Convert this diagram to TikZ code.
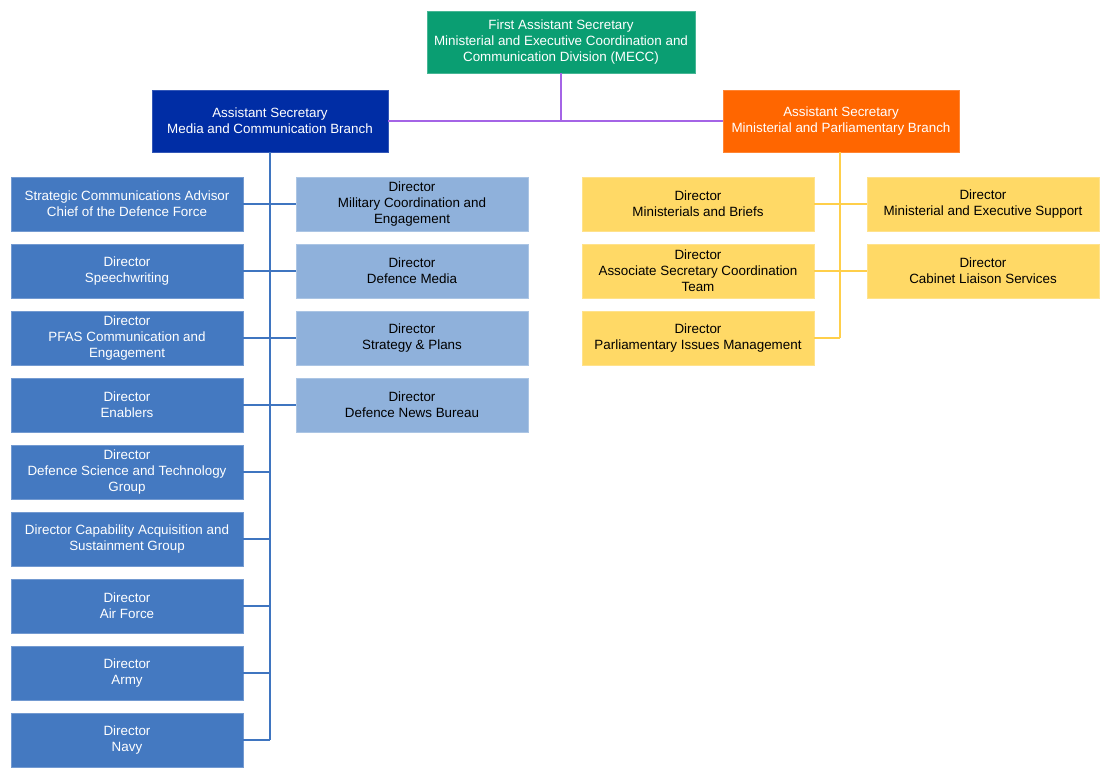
\documentclass[tikz,border=0pt]{standalone}
\usepackage{fontspec}
\setmainfont{Liberation Sans}
\definecolor{cgreen}{HTML}{0A9E72}
\definecolor{cdblue}{HTML}{002DA5}
\definecolor{corange}{HTML}{FF6600}
\definecolor{cblue}{HTML}{4479C1}
\definecolor{clblue}{HTML}{8FB1DB}
\definecolor{cyellow}{HTML}{FFD966}
\definecolor{cline}{HTML}{3F75C0}
\definecolor{cyline}{HTML}{FFCF4A}
\definecolor{cpurple}{HTML}{A464E6}
\begin{document}
\begin{tikzpicture}[x=1pt,y=-1pt,
  box/.style={rectangle,inner sep=0pt,align=center,minimum width=232pt,minimum height=54pt,
    font=\fontsize{13.4}{16}\selectfont,line width=0.8pt},
  bigbox/.style={box,minimum width=236pt,minimum height=62pt},
  topbox/.style={box,minimum width=268pt,minimum height=62pt,fill=cgreen,draw=cgreen!75!white,text=white},
  dbbox/.style={bigbox,fill=cdblue,draw=cdblue!80!white,text=white},
  orbox/.style={bigbox,fill=corange,draw=corange!80!white,text=white},
  bbox/.style={box,fill=cblue,draw=cblue!75!white,text=white},
  lbbox/.style={box,fill=clblue,draw=clblue!75!white,text=black},
  ybox/.style={box,fill=cyellow,draw=cyellow!75!white,text=black},
  bl/.style={draw=cline,line width=2pt},
  yl/.style={draw=cyline,line width=2pt},
  pl/.style={draw=cpurple,line width=2pt}]
\useasboundingbox[fill=white] (0,0) rectangle (1112,780);

\node[topbox] (top) at (561,42) {First Assistant Secretary\\Ministerial and Executive Coordination and\\Communication Division (MECC)};
\node[dbbox] (mb) at (270,121) {Assistant Secretary\\Media and Communication Branch};
\node[orbox] (pb) at (841,121) {Assistant Secretary\\Ministerial and Parliamentary Branch};

\node[bbox] (l1) at (127,204) {Strategic Communications Advisor\\Chief of the Defence Force};
\node[bbox] (l2) at (127,271) {Director\\Speechwriting};
\node[bbox] (l3) at (127,338) {Director\\PFAS Communication and\\Engagement};
\node[bbox] (l4) at (127,405) {Director\\Enablers};
\node[bbox] (l5) at (127,472) {Director\\Defence Science and Technology\\Group};
\node[bbox] (l6) at (127,539) {Director Capability Acquisition and\\Sustainment Group};
\node[bbox] (l7) at (127,606) {Director\\Air Force};
\node[bbox] (l8) at (127,673) {Director\\Army};
\node[bbox] (l9) at (127,740) {Director\\Navy};

\node[lbbox] (m1) at (412,204) {Director\\Military Coordination and\\Engagement};
\node[lbbox] (m2) at (412,271) {Director\\Defence Media};
\node[lbbox] (m3) at (412,338) {Director\\Strategy \& Plans};
\node[lbbox] (m4) at (412,405) {Director\\Defence News Bureau};

\node[ybox] (y1) at (698,204) {Director\\Ministerials and Briefs};
\node[ybox] (y2) at (698,271) {Director\\Associate Secretary Coordination\\Team};
\node[ybox] (y3) at (698,338) {Director\\Parliamentary Issues Management};
\node[ybox] (z1) at (983,204) {Director\\Ministerial and Executive Support};
\node[ybox] (z2) at (983,271) {Director\\Cabinet Liaison Services};

% purple
\draw[pl] (top.south) -- (top.south |- mb.east);
\draw[pl] (mb.east) -- (pb.west);

% blue
\draw[bl] (mb.south) -- (mb.south |- l9.east);
\foreach \n in {l1,l2,l3,l4,l5,l6,l7,l8,l9}
  \draw[bl] (\n.east) -- (\n.east -| mb.south);
\foreach \n in {m1,m2,m3,m4}
  \draw[bl] (\n.west) -- (\n.west -| mb.south);

% yellow
\coordinate (yc) at ([xshift=-1pt]pb.south);
\draw[yl] (yc) -- (yc |- y3.east);
\foreach \n in {y1,y2,y3}
  \draw[yl] (\n.east) -- (\n.east -| yc);
\foreach \n in {z1,z2}
  \draw[yl] (\n.west) -- (\n.west -| yc);
\end{tikzpicture}
\end{document}
